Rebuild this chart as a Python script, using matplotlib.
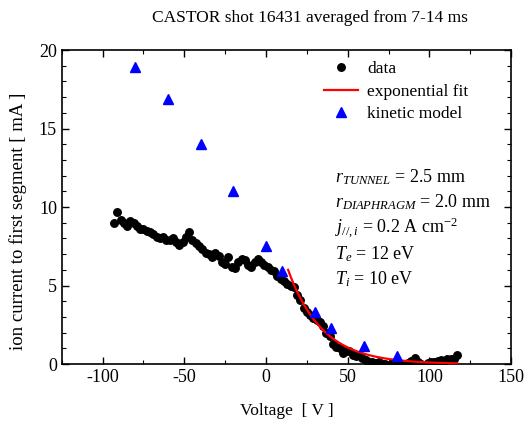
import numpy as np
import matplotlib
matplotlib.use("Agg")
import matplotlib.pyplot as plt
from matplotlib.ticker import MultipleLocator

plt.rcParams['font.family'] = ['Liberation Serif', 'DejaVu Serif']
plt.rcParams['mathtext.fontset'] = 'custom'
plt.rcParams['mathtext.rm'] = 'Liberation Serif'
plt.rcParams['mathtext.it'] = 'Liberation Serif:italic'
plt.rcParams['axes.unicode_minus'] = False

# measured data
voltage = [-93, -91, -89, -87, -85, -83, -81, -79, -77, -75, -73, -71, -69, -67, -65,
           -63, -61, -59, -57, -55, -53, -51, -49, -47, -45, -43, -41, -39, -37, -35,
           -33, -31, -29, -27, -25, -23, -21, -19, -17, -15, -13, -11, -9, -7, -5,
           -3, -1, 1, 3, 5, 7, 9, 11, 13, 15, 17, 19, 21, 23, 25,
           27, 29, 31, 33, 35, 37, 39, 41, 43, 45, 47, 49, 51, 53, 55,
           57, 59, 61, 63, 65, 67, 69, 71, 73, 75, 77, 79, 81, 83, 85,
           87, 89, 91, 93, 95, 97, 99, 101, 103, 105, 107, 109, 111, 113, 115, 117]
current = [9.0, 9.7, 9.2, 9.0, 8.8, 9.1, 9.0, 8.8, 8.6, 8.6, 8.5, 8.4, 8.3, 8.1, 8.0,
           8.1, 7.9, 7.9, 8.0, 7.8, 7.6, 7.8, 8.1, 8.4, 7.9, 7.7, 7.5, 7.3, 7.1, 7.0,
           6.8, 7.1, 6.9, 6.5, 6.4, 6.8, 6.2, 6.1, 6.5, 6.7, 6.6, 6.3, 6.2, 6.5, 6.7,
           6.5, 6.3, 6.2, 6.0, 5.9, 5.6, 5.4, 5.3, 5.1, 5.0, 4.9, 4.4, 4.1, 3.6, 3.3,
           3.1, 2.9, 2.8, 2.7, 2.4, 2.0, 1.8, 1.3, 1.1, 1.0, 0.7, 0.8, 0.85, 0.6, 0.5,
           0.55, 0.4, 0.25, 0.15, 0.1, 0.05, 0.1, 0.0, 0.02, -0.05, 0.05, 0.1, 0.05, -0.05, 0.0,
           0.05, 0.2, 0.4, 0.1, 0.0, -0.05, 0.05, 0.1, 0.15, 0.2, 0.25, 0.2, 0.3, 0.3, 0.35, 0.6]

# kinetic model
model_voltage = [-80, -60, -40, -20, 0, 10, 30, 40, 60, 80]
model_current = [18.9, 16.9, 14.0, 11.0, 7.5, 5.95, 3.3, 2.3, 1.17, 0.53]

# exponential fit parameters
fit_amplitude = 6.0
fit_v0 = 13.5
fit_decay = 21.0
fit_vmax = 117.0

fig = plt.figure(figsize=(5.28, 4.26), dpi=100)
ax = fig.add_axes([0.117, 0.1455, 0.851, 0.737])

ax.plot(voltage, current, 'o', color='black', markersize=5.4, label='data', zorder=3)
vfit = np.linspace(fit_v0, fit_vmax, 200)
ax.plot(vfit, fit_amplitude * np.exp(-(vfit - fit_v0) / fit_decay), '-', color='red',
        lw=1.6, label='exponential fit', zorder=4)
ax.plot(model_voltage, model_current, '^', color='blue', markersize=7, label='kinetic model',
        zorder=5)

ax.set_xlim(-125, 150)
ax.set_ylim(0, 20)
ax.xaxis.set_major_locator(MultipleLocator(50))
ax.xaxis.set_minor_locator(MultipleLocator(25))
ax.yaxis.set_major_locator(MultipleLocator(5))
ax.yaxis.set_minor_locator(MultipleLocator(1))
ax.tick_params(which='both', direction='in', top=True, right=True, labelsize=13)
ax.tick_params(which='major', length=5, width=1)
ax.tick_params(which='minor', length=3, width=0.8)
for s in ax.spines.values():
    s.set_linewidth(1.2)

ax.set_xlabel('Voltage  [ V ]', fontsize=12.5, labelpad=12)
ax.set_ylabel('ion current to first segment [ mA ]', fontsize=13.5)
ax.yaxis.set_label_coords(-0.078, 0.455)
fig.text(310 / 528, 1 - 18 / 426, 'CASTOR shot 16431 averaged from 7-14 ms',
         fontsize=12.5, ha='center', va='center')

leg = ax.legend(loc='upper right', bbox_to_anchor=(0.93, 1.0), frameon=False, fontsize=12.5,
                handlelength=2.0, handletextpad=0.5, labelspacing=0.35, borderaxespad=0.25)

ann_y = [0.596, 0.516, 0.433, 0.350, 0.271]
ann_txt = [r'$r_{TUNNEL}$ = 2.5 mm', r'$r_{DIAPHRAGM}$ = 2.0 mm',
           r'$j_{//,i}$ = 0.2 A cm$^{-2}$', r'$T_e$ = 12 eV', r'$T_i$ = 10 eV']
for yy, tt in zip(ann_y, ann_txt):
    ax.text(0.608, yy, tt, transform=ax.transAxes, fontsize=13, va='center')

fig.savefig('out.png', dpi=100)
